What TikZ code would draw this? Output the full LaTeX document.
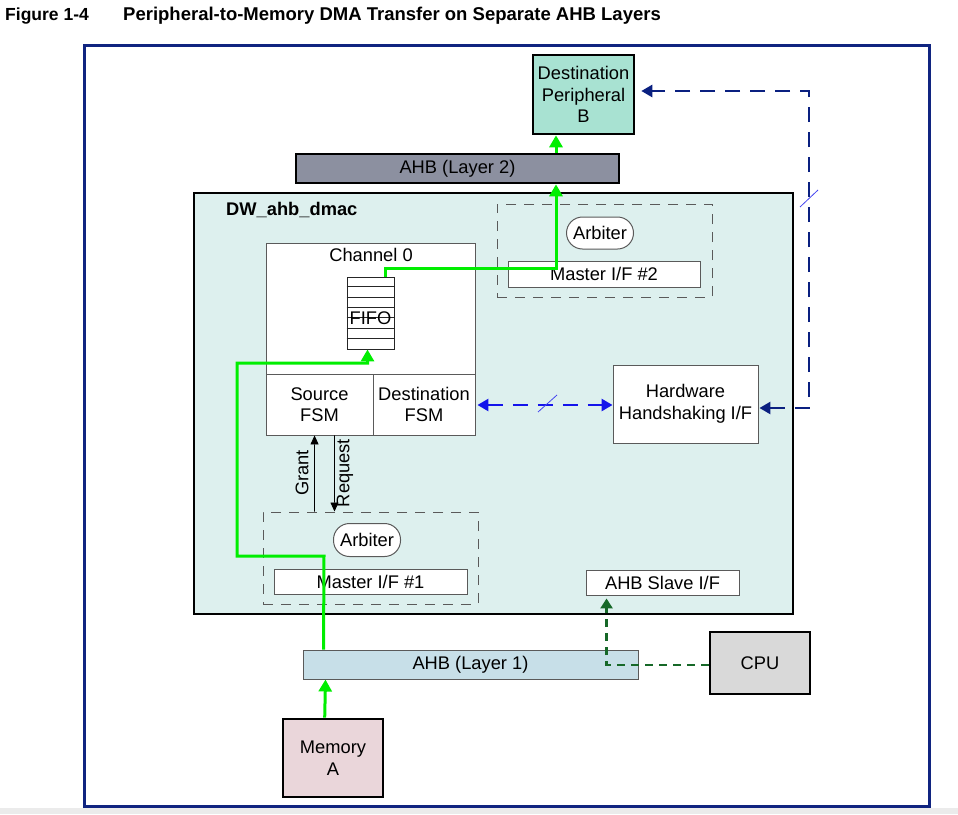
\documentclass[tikz,border=0pt]{standalone}
\usepackage{fontspec}
\setmainfont{Liberation Sans}
\usetikzlibrary{arrows.meta,calc}
\definecolor{framenavy}{RGB}{16,36,128}
\definecolor{destfill}{RGB}{168,226,210}
\definecolor{ahbtwo}{RGB}{140,144,160}
\definecolor{dmacfill}{RGB}{221,240,238}
\definecolor{ahbone}{RGB}{199,223,232}
\definecolor{memfill}{RGB}{234,214,218}
\definecolor{cpufill}{RGB}{217,217,217}
\definecolor{flowgreen}{RGB}{0,238,0}
\definecolor{hsblue}{RGB}{20,20,235}
\definecolor{hsnavy}{RGB}{10,32,128}
\definecolor{cpugreen}{RGB}{22,104,40}
\definecolor{thingray}{RGB}{90,90,90}
\tikzset{
  thickbox/.style={draw=black, line width=2.6, inner sep=0, align=center},
  thinbox/.style={draw=thingray, line width=0.9, fill=white, inner sep=0, align=center},
  groupbox/.style={draw=thingray, line width=1, dash pattern=on 10 off 8, inner sep=0},
  arbbox/.style={draw=thingray, line width=1, fill=white, rounded corners=16, inner sep=0},
  flow/.style={draw=flowgreen, line width=3},
  flowarrow/.style={flow, -{Triangle[length=12,width=13]}},
  hsline/.style={draw=hsblue, line width=2.6, dash pattern=on 15 off 10, {Triangle[length=11,width=12]}-{Triangle[length=11,width=12]}},
  navyline/.style={draw=hsnavy, line width=2.6, dash pattern=on 15 off 10, {Triangle[length=11,width=12]}-{Triangle[length=11,width=12]}},
  cpuline/.style={draw=cpugreen, line width=2.6, dash pattern=on 8 off 6, -{Triangle[length=10,width=12]}},
  sigarrow/.style={draw=black, line width=0.8, -{Triangle[length=9,width=8]}},
  slash/.style={draw=hsblue!80, line width=0.8}
}
\begin{document}
\begin{tikzpicture}[x=1pt,y=-1pt, font=\fontsize{18.3}{21.5}\selectfont]
\useasboundingbox (0,0) rectangle (958,814);
\fill[black!8] (0,808) rectangle (958,814);
% title
\node[anchor=west, inner sep=0, font=\bfseries\fontsize{17.5}{20}\selectfont] (fignum) at (5,16) {Figure 1-4};
\node[anchor=west, inner sep=0, font=\bfseries\fontsize{18.5}{21}\selectfont] (figtitle) at (123,16) {Peripheral-to-Memory DMA Transfer on Separate AHB Layers};
% outer frame
\node[draw=framenavy, line width=3, minimum width=845, minimum height=761, inner sep=0] (frame) at (506.5,425.5) {};
% top elements
\node[thickbox, fill=destfill, minimum width=101, minimum height=79] (dest) at (583.5,94.5) {Destination\\Peripheral\\B};
\node[thickbox, fill=ahbtwo, minimum width=323, minimum height=29] (ahb2) at (457.5,168.5) {AHB (Layer 2)};
% dmac
\node[thickbox, fill=dmacfill, minimum width=599, minimum height=421] (dmac) at (493.5,403.5) {};
\node[anchor=west, inner sep=0, font=\bfseries\fontsize{18.3}{21}\selectfont] (dmaclabel) at (226,210) {DW\_ahb\_dmac};
% arbiter group 2
\node[groupbox, minimum width=215, minimum height=93] (grp2) at (604.5,250.5) {};
\node[arbbox, minimum width=67, minimum height=32] (arb2) at (600,233) {Arbiter};
\node[thinbox, minimum width=192, minimum height=26] (mif2) at (604,274) {Master I/F \#2};
% channel 0
\node[thinbox, minimum width=209, minimum height=192] (chan) at (370.5,339) {};
\node[inner sep=0] (chanlabel) at (371,255) {Channel 0};
\node[thinbox, minimum width=107, minimum height=61] (src) at (319.5,404.5) {Source\\FSM};
\node[thinbox, minimum width=102, minimum height=61] (dst) at (424,404.5) {Destination\\FSM};
\node[draw=black!85, line width=0.9, fill=white, minimum width=47, minimum height=72, inner sep=0] (fifo) at (370.5,313) {};
\foreach \k in {1,...,6} {
  \draw[black!85, line width=0.9] ($(fifo.north west)+(0,{\k*72/7})$) -- ($(fifo.north east)+(0,{\k*72/7})$);
}
\node[inner sep=0] (fifolabel) at (370.5,318) {FIFO};
% hardware handshaking
\node[thinbox, minimum width=145, minimum height=78] (hw) at (685.5,404) {Hardware\\Handshaking I/F};
% arbiter group 1
\node[groupbox, minimum width=215, minimum height=92] (grp1) at (370.5,558) {};
\node[arbbox, minimum width=67, minimum height=33] (arb1) at (367,540) {Arbiter};
\node[thinbox, minimum width=193, minimum height=25] (mif1) at (370.5,581.5) {Master I/F \#1};
\node[thinbox, minimum width=153, minimum height=25] (slave) at (662.5,582.5) {AHB Slave I/F};
% bottom
\node[draw=thingray, line width=1, fill=ahbone, minimum width=335, minimum height=29, inner sep=0] (ahb1) at (470.5,664.5) {AHB (Layer 1)};
\node[thickbox, fill=cpufill, minimum width=100, minimum height=62] (cpu) at (760,663) {CPU};
\node[thickbox, fill=memfill, minimum width=100, minimum height=78] (mem) at (333,758) {Memory\\A};
% green data flow
\coordinate (ga1) at (324,556);
\coordinate (ga2) at (237,556);
\coordinate (ga3) at (237,363);
\draw[flowarrow] ($(ahb1.north west)+(21,0)$) -- (ga1) -- (ga2) -- (ga3) -| ($(fifo.south)+(-3,0)$);
\coordinate (gb1) at (556,268);
\draw[flowarrow] ($(fifo.north)+(14.5,0)$) |- (gb1) -- (gb1 |- ahb2.south);
\draw[flowarrow] (ahb2.north -| gb1) -- (dest.south -| gb1);
\draw[flowarrow] ($(mem.north west)+(43,0)$) -- ($(ahb1.south west)+(23,0)$);
% grant / request
\draw[sigarrow] ($(grp1.north west)+(52,0)$) -- ($(src.south west)+(49,0)$);
\draw[sigarrow] ($(src.south west)+(69,0)$) -- ($(grp1.north west)+(72,0)$);
\node[rotate=90, inner sep=0] (grant) at (302,473) {Grant};
\node[rotate=90, inner sep=0] (request) at (345,473) {Request};
% handshaking
\draw[hsline] ($(dst.east)+(2,0.5)$) -- ($(hw.west)+(0,1)$);
\draw[slash] (538,412) -- (557,395);
\coordinate (nv1) at (809,408);
\coordinate (nv2) at (809,91);
\draw[navyline] ($(hw.east)+(1,4)$) -- (nv1) -- (nv2) -- ($(dest.east |- nv2)+(6,0)$);
\draw[slash] (800,207) -- (818,190);
% cpu to slave
\draw[cpuline] ($(cpu.west)+(0,2)$) -| ($(slave.south west)+(21,3)$);
\end{tikzpicture}
\end{document}
